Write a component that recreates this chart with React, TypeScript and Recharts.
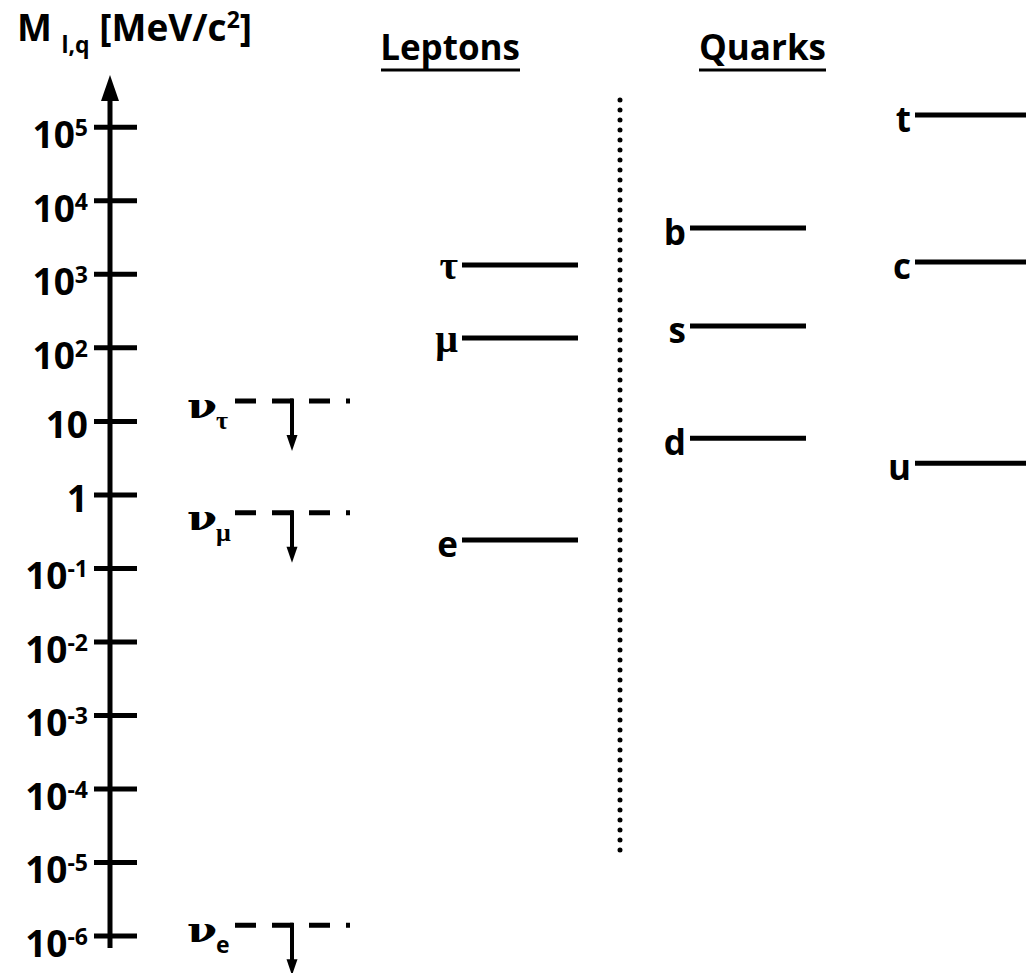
import React from 'react';
import { ScatterChart, Scatter, XAxis, YAxis, ReferenceLine } from 'recharts';

// Masses in MeV/c² (neutrinos: upper limits)
const neutrinoFlavours = ['e', 'μ', 'τ'];
const neutrinoLimits = [1.4e-6, 0.57, 18.9];

const leptonNames = ['e', 'μ', 'τ'];
const leptonMasses = [0.244, 136, 1340];

const downQuarkNames = ['d', 's', 'b'];
const downQuarkMasses = [5.9, 198, 4270];

const upQuarkNames = ['u', 'c', 't'];
const upQuarkMasses = [2.7, 1470, 147000];

// Decades shown on the mass axis
const tickExponents = [-6, -5, -4, -3, -2, -1, 0, 1, 2, 3, 4, 5];
const tickValues = tickExponents.map((e) => Math.pow(10, e));

// Layout
const WIDTH = 1026;
const HEIGHT = 973;
const AXIS_WIDTH = 110;
const Y_DOMAIN: [number, number] = [Math.pow(10, -6.503), Math.pow(10, 6.7315)];
const AXIS_RANGE: [number, number] = [Math.pow(10, -6.163), Math.pow(10, 5.371)];
const SEPARATOR_RANGE: [number, number] = [Math.pow(10, -4.939), Math.pow(10, 5.371)];
const SEPARATOR_X = 510;
const COLUMN_X = { neutrino: 125, lepton: 352, down: 580, up: 805 };
const BAR_LENGTH = 116;

const SANS = "'Open Sans', 'DejaVu Sans', sans-serif";
const SERIF = "'Liberation Serif', 'DejaVu Serif', serif";
const NU_FONT = "'DejaVu Serif', 'Liberation Serif', serif";
const INK = '#000';

const toPoints = (names: string[], masses: number[], x: number) =>
  names.map((name, i) => ({ x, mass: masses[i], name }));

const neutrinoData = toPoints(neutrinoFlavours, neutrinoLimits, COLUMN_X.neutrino);
const leptonData = toPoints(leptonNames, leptonMasses, COLUMN_X.lepton);
const downData = toPoints(downQuarkNames, downQuarkMasses, COLUMN_X.down);
const upData = toPoints(upQuarkNames, upQuarkMasses, COLUMN_X.up);

const isGreek = (s: string) => /[\u0370-\u03ff]/.test(s);

// Solid mass level with its particle name on the left
function LevelShape(props: any) {
  const { cx, cy, payload } = props;
  if (cx == null || cy == null) return null;
  const greek = isGreek(payload.name);
  return (
    <g>
      <line x1={cx} x2={cx + BAR_LENGTH} y1={cy} y2={cy} stroke={INK} strokeWidth={5} />
      <text
        x={cx - 4}
        y={cy + (greek ? 14 : 17)}
        textAnchor="end"
        fontFamily={greek ? SERIF : SANS}
        fontWeight="bold"
        fontSize={greek ? 40 : 35}
        fill={INK}
      >
        {payload.name}
      </text>
    </g>
  );
}

// Dashed upper-limit level with a downward arrow
function LimitShape(props: any) {
  const { cx, cy, payload } = props;
  if (cx == null || cy == null) return null;
  const ax = cx + 57;
  const sub = payload.name as string;
  return (
    <g>
      <line
        x1={cx}
        x2={cx + 115}
        y1={cy}
        y2={cy}
        stroke={INK}
        strokeWidth={5}
        strokeDasharray="21 16"
      />
      <line x1={ax} x2={ax} y1={cy - 2.5} y2={cy + 36} stroke={INK} strokeWidth={4} />
      <polygon points={`${ax - 5.5},${cy + 34} ${ax + 5.5},${cy + 34} ${ax},${cy + 50}`} fill={INK} />
      <text
        x={cx - 48}
        y={cy + 17}
        fontFamily={NU_FONT}
        fontWeight="bold"
        fontSize={36}
        textLength={30}
        lengthAdjust="spacingAndGlyphs"
        fill={INK}
      >
        ν
      </text>
      <text
        x={cx - 19}
        y={cy + 28}
        fontFamily={isGreek(sub) ? SERIF : SANS}
        fontWeight="bold"
        fontSize={isGreek(sub) ? 26 : 23}
        fill={INK}
      >
        {sub}
      </text>
    </g>
  );
}

function AxisTick(props: any) {
  const { x, y, payload } = props;
  const exp = Math.round(Math.log10(payload.value));
  const plain = exp === 0 || exp === 1;
  return (
    <g>
      <line x1={x - 16} x2={x + 27} y1={y} y2={y} stroke={INK} strokeWidth={5} />
      <text
        x={x - 22}
        y={y + (plain ? 17 : 21)}
        textAnchor="end"
        fontFamily={SANS}
        fontWeight="bold"
        fontSize={37}
        fill={INK}
      >
        {exp === 0 ? '1' : '10'}
        {!plain && (
          <tspan fontSize={23} dy={-12}>
            {String(exp)}
          </tspan>
        )}
      </text>
    </g>
  );
}

function AxisArrow(props: any) {
  const { x1, y1, y2 } = props;
  const top = Math.min(y1, y2);
  const bottom = Math.max(y1, y2);
  return (
    <g>
      <line x1={x1} x2={x1} y1={bottom} y2={top} stroke={INK} strokeWidth={5} />
      <polygon points={`${x1},${top - 25} ${x1 - 9},${top + 1} ${x1 + 9},${top + 1}`} fill={INK} />
    </g>
  );
}

export default function App() {
  return (
    <div style={{ position: 'absolute', left: 0, top: 0, width: WIDTH, height: HEIGHT, background: '#fff' }}>
      <ScatterChart width={WIDTH} height={HEIGHT} margin={{ top: 0, right: 0, bottom: 0, left: 0 }}>
        <XAxis type="number" dataKey="x" domain={[0, WIDTH - AXIS_WIDTH]} allowDataOverflow hide />
        <YAxis
          type="number"
          dataKey="mass"
          scale="log"
          domain={Y_DOMAIN}
          allowDataOverflow
          ticks={tickValues}
          interval={0}
          width={AXIS_WIDTH}
          axisLine={false}
          tickLine={false}
          tickSize={0}
          tickMargin={0}
          tick={<AxisTick />}
        />
        <ReferenceLine
          segment={[
            { x: 0, y: AXIS_RANGE[0] },
            { x: 0, y: AXIS_RANGE[1] },
          ]}
          ifOverflow="visible"
          shape={(p: any) => <AxisArrow {...p} />}
        />
        <ReferenceLine
          segment={[
            { x: SEPARATOR_X, y: SEPARATOR_RANGE[1] },
            { x: SEPARATOR_X, y: SEPARATOR_RANGE[0] },
          ]}
          ifOverflow="visible"
          stroke={INK}
          strokeWidth={5}
          strokeDasharray="0 10"
          strokeLinecap="round"
        />
        <Scatter data={neutrinoData} dataKey="mass" shape={<LimitShape />} isAnimationActive={false} />
        <Scatter data={leptonData} dataKey="mass" shape={<LevelShape />} isAnimationActive={false} />
        <Scatter data={downData} dataKey="mass" shape={<LevelShape />} isAnimationActive={false} />
        <Scatter data={upData} dataKey="mass" shape={<LevelShape />} isAnimationActive={false} />
      </ScatterChart>
      <svg
        width={WIDTH}
        height={HEIGHT}
        style={{ position: 'absolute', left: 0, top: 0, pointerEvents: 'none' }}
      >
        <text x={17} y={41} fontFamily={SANS} fontWeight="bold" fontSize={37} fill={INK}>
          M{' '}
          <tspan fontSize={23} dy={12}>
            l,q
          </tspan>
          <tspan dy={-12}> [MeV/c</tspan>
          <tspan fontSize={23} dy={-13}>
            2
          </tspan>
          <tspan dy={13}>]</tspan>
        </text>
        <text x={520} y={60} textAnchor="end" fontFamily={SANS} fontWeight="bold" fontSize={35} fill={INK}>
          Leptons
        </text>
        <line x1={381} x2={520} y1={70} y2={70} stroke={INK} strokeWidth={3} />
        <text x={699} y={60} fontFamily={SANS} fontWeight="bold" fontSize={35} fill={INK}>
          Quarks
        </text>
        <line x1={699} x2={826} y1={70} y2={70} stroke={INK} strokeWidth={3} />
      </svg>
    </div>
  );
}
